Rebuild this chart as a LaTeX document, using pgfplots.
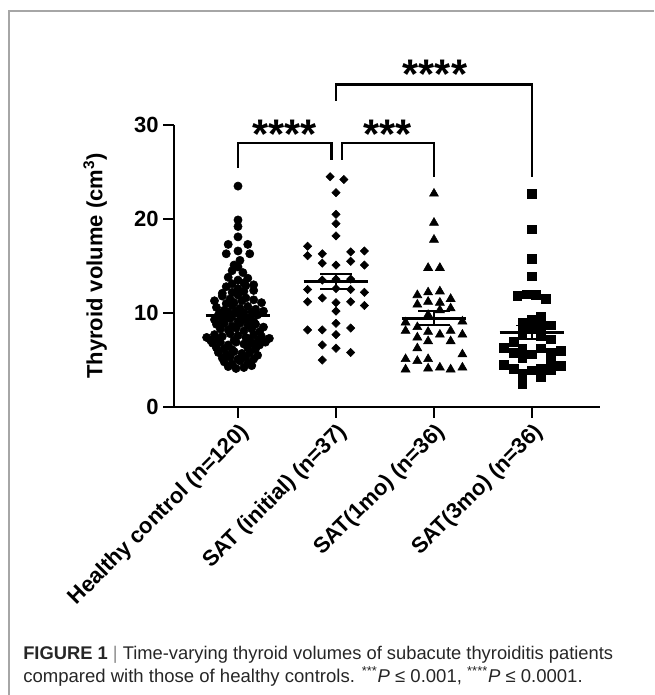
\documentclass[border=0pt]{standalone}
\usepackage{fontspec}
\setmainfont{Liberation Sans}
\usepackage{pgfplots}
\pgfplotsset{compat=1.18}

\begin{document}
\begin{tikzpicture}
\path[use as bounding box] (0pt,0pt) rectangle (490.5pt,-521.25pt);
% figure frame
\draw[black!35, line width=0.9pt] (6.75pt,-521.25pt) -- (6.75pt,-8.25pt) -- (490.5pt,-8.25pt);

\begin{axis}[
at={(130.5pt,-305.25pt)}, anchor=south west,
scale only axis, width=319.5pt, height=211.5pt,
xmin=-0.653, xmax=3.694, ymin=0, ymax=30,
axis lines*=left, tick pos=left,
axis line style={line width=2pt},
tick align=outside, major tick length=8pt,
tick style={line width=2pt, black},
xtick={0,1,2,3},
xticklabels={{Healthy control (n=120)},{SAT (initial) (n=37)},{SAT(1mo) (n=36)},{SAT(3mo) (n=36)}},
ytick={0,10,20,30},
/pgf/number format/assume math mode=true,
ticklabel style={font=\bfseries\fontsize{16.5}{19}\selectfont},
xticklabel style={rotate=45, anchor=north east, inner sep=2pt},
ylabel={Thyroid volume (cm\textsuperscript{3})},
ylabel style={at={(axis description cs:-0.185,0.5)}, anchor=center, rotate=0, font=\bfseries\fontsize{16.5}{19}\selectfont},
clip=false,
]

% Healthy control
\addplot[only marks, mark=*, mark size=3.1pt, black] coordinates {
(0,23.5)(0,19.9)(0,19.2)(0,18.1)(-0.1,17.3)(0.1,17.3)
(-0.12,16.3)(0,16.6)(0.12,16.3)(0.02,15.6)(-0.04,15.1)
(-0.06,14.5)(0.05,14.3)(0,14.9)
(-0.1,13.8)(0,13.5)(0.1,13.7)(-0.06,13.1)(0.06,13.2)(0.16,13.0)
(-0.12,12.8)(0,12.6)(0.08,12.9)(-0.06,12.2)(0.06,12.3)(0.16,12.4)(-0.16,12.1)
(-0.24,11.3)(-0.16,11.8)(-0.08,11.5)(0,11.9)(0.08,11.6)(0.16,11.4)(0.24,11.1)(-0.04,11.1)(0.04,11.3)(-0.12,11.0)
(-0.22,10.6)(-0.14,10.3)(-0.06,10.8)(0.02,10.5)(0.1,10.7)(0.18,10.4)(0.26,10.2)(-0.18,10.0)(-0.1,10.1)(-0.02,10.2)(0.06,10.0)(0.14,10.1)
(-0.2,9.8)(-0.12,9.6)(-0.04,9.9)(0.04,9.7)(0.12,9.5)(0.2,9.8)(-0.24,9.3)(-0.16,9.2)(-0.08,9.4)(0,9.1)(0.08,9.3)(0.16,9.1)
(-0.22,8.8)(-0.14,8.9)(-0.06,8.6)(0.02,8.9)(0.1,8.7)(0.18,8.8)(0.26,8.5)(-0.18,8.3)(-0.1,8.2)(-0.02,8.4)(0.06,8.1)(0.14,8.3)(0.22,8.0)
(-0.32,7.4)(-0.24,7.7)(-0.16,7.5)(-0.08,7.8)(0,7.6)(0.08,7.4)(0.16,7.7)(0.24,7.5)(0.32,7.3)(-0.28,7.1)(-0.2,7.2)(-0.04,7.1)(0.12,7.2)(0.2,7.0)
(-0.26,6.8)(-0.18,6.9)(-0.1,6.6)(-0.02,6.9)(0.06,6.7)(0.14,6.8)(0.22,6.6)(0.28,6.9)(-0.22,6.3)(-0.14,6.2)(-0.06,6.1)(0.1,6.3)(0.18,6.2)
(-0.2,5.8)(-0.12,5.6)(-0.04,5.9)(0.04,5.7)(0.12,5.8)(0.2,5.5)(-0.16,5.2)(-0.08,5.3)(0,5.1)(0.08,5.3)(0.16,5.1)
(-0.14,4.8)(-0.06,4.6)(0.02,4.9)(0.1,4.7)(-0.1,4.3)(-0.02,4.1)(0.06,4.2)(0.14,4.4)
};

% SAT initial
\addplot[only marks, mark=square*, mark size=2.2pt, mark options={rotate=45}, black] coordinates {
(0.94,24.5)(1.08,24.2)(1.0,22.8)(1.0,20.5)(1.0,19.5)(1.0,18.2)(0.71,17.1)(0.71,16.1)(0.86,16.3)(0.86,15.3)(1.0,15.1)(1.15,16.5)(1.15,15.5)(1.29,16.6)(1.29,15.1)
(0.86,13.5)(1.0,13.6)(1.15,13.6)(0.71,12.5)(1.0,12.6)(1.15,12.5)(1.29,12.2)(0.71,11.2)(0.86,11.6)(1.0,11.1)(1.15,11.2)(1.29,10.8)(1.0,10.2)(1.0,8.9)(0.71,8.2)(0.86,8.2)(1.0,7.7)(1.15,8.4)(0.86,6.6)(1.0,6.25)(1.15,5.8)(0.86,5.0)
};

% SAT 1mo
\addplot[only marks, mark=triangle*, mark size=3.9pt, black] coordinates {
(2,22.7)(2,19.6)(2,17.8)(1.94,14.8)(2.06,14.8)(1.83,11.9)(1.94,12.2)(2.06,12.3)(1.83,10.9)(1.94,11.2)(2.06,11.1)(2.17,11.5)(2.17,10.5)(2.06,10.3)(1.94,9.8)(1.71,9.0)(2.29,9.1)(1.71,8.1)(1.83,8.5)(1.94,8.0)(2.06,7.7)(2.17,8.1)(2.29,7.7)(1.83,7.4)(1.94,7.0)(2.17,7.0)(1.83,6.25)(2.29,5.6)(1.71,5.1)(1.83,4.9)(1.94,5.1)(1.71,4.0)(1.94,4.1)(2.06,4.2)(2.17,4.0)(2.29,4.2)
};

% SAT 3mo
\addplot[only marks, mark=square*, mark size=3.3pt, black] coordinates {
(3,22.7)(3,18.9)(3,15.8)(3,13.9)(2.85,11.8)(2.95,12.0)(3.04,11.9)(3.14,11.5)(2.9,9.0)(3,9.3)(3.09,9.6)(3.19,8.7)(2.9,7.9)(3,8.4)(3.09,8.55)(3.09,7.6)(3.19,7.2)(2.81,6.9)(2.71,6.3)(2.81,5.8)(2.9,6.25)(2.9,5.2)(3,5.6)(3.09,6.25)(3.19,5.8)(3.19,4.8)(3.29,6.0)(3.29,4.4)(2.71,4.5)(2.81,4.05)(2.9,3.5)(3,3.9)(3.09,4.1)(3.09,3.2)(3.19,3.9)(2.9,2.45)
};

% means
\addplot[black, line width=2.2pt, unbounded coords=jump] coordinates {
(-0.33,9.7)(0.33,9.7)(0,nan)
(0.67,13.35)(1.33,13.35)(1,nan)
(1.67,9.45)(2.33,9.45)(2,nan)
(2.67,7.95)(3.33,7.95)
};
% SEM bars
\addplot[black, line width=1.3pt, unbounded coords=jump] coordinates {
(0,9.33)(0,10.07)(0,nan)(-0.16,10.07)(0.16,10.07)(0,nan)(-0.16,9.33)(0.16,9.33)(0,nan)
(1,12.53)(1,14.17)(1,nan)(0.84,14.17)(1.16,14.17)(1,nan)(0.84,12.53)(1.16,12.53)(1,nan)
(2,8.7)(2,10.2)(2,nan)(1.84,10.2)(2.16,10.2)(2,nan)(1.84,8.7)(2.16,8.7)(2,nan)
(3,7.22)(3,8.68)(3,nan)(2.84,8.68)(3.16,8.68)(3,nan)(2.84,7.22)(3.16,7.22)
};

% significance brackets
\draw[line width=1.8pt] (axis cs:0,25.45) |- (axis cs:0.956,28.1) -- (axis cs:0.956,26.3);
\draw[line width=1.8pt] (axis cs:1.064,26.3) |- (axis cs:2.0,28.1) -- (axis cs:2.0,24.5);
\draw[line width=1.8pt] (axis cs:1.0,32.6) |- (axis cs:3.0,34.3) -- (axis cs:3.0,24.5);
\node[anchor=base, inner sep=0pt, font=\bfseries\fontsize{31}{31}\selectfont] at (axis cs:0.475,27.55) {****};
\node[anchor=base, inner sep=0pt, font=\bfseries\fontsize{31}{31}\selectfont] at (axis cs:1.53,27.55) {***};
\node[anchor=base, inner sep=0pt, font=\bfseries\fontsize{31}{31}\selectfont] at (axis cs:2.01,33.9) {****};
\end{axis}

% caption
\node[anchor=base west, inner sep=0pt, text=black!85, font=\fontsize{13.75}{17.5}\selectfont] at (17.25pt,-494.5pt)
{\textbf{FIGURE 1}\ \textcolor{black!45}{|}\ Time-varying thyroid volumes of subacute thyroiditis patients};
\node[anchor=base west, inner sep=0pt, text=black!85, font=\fontsize{13.9}{17.5}\selectfont] at (17.25pt,-512pt)
{compared with those of healthy controls. \textsuperscript{***}\textit{P} ≤ 0.001, \textsuperscript{****}\textit{P} ≤ 0.0001.};
\end{tikzpicture}
\end{document}
